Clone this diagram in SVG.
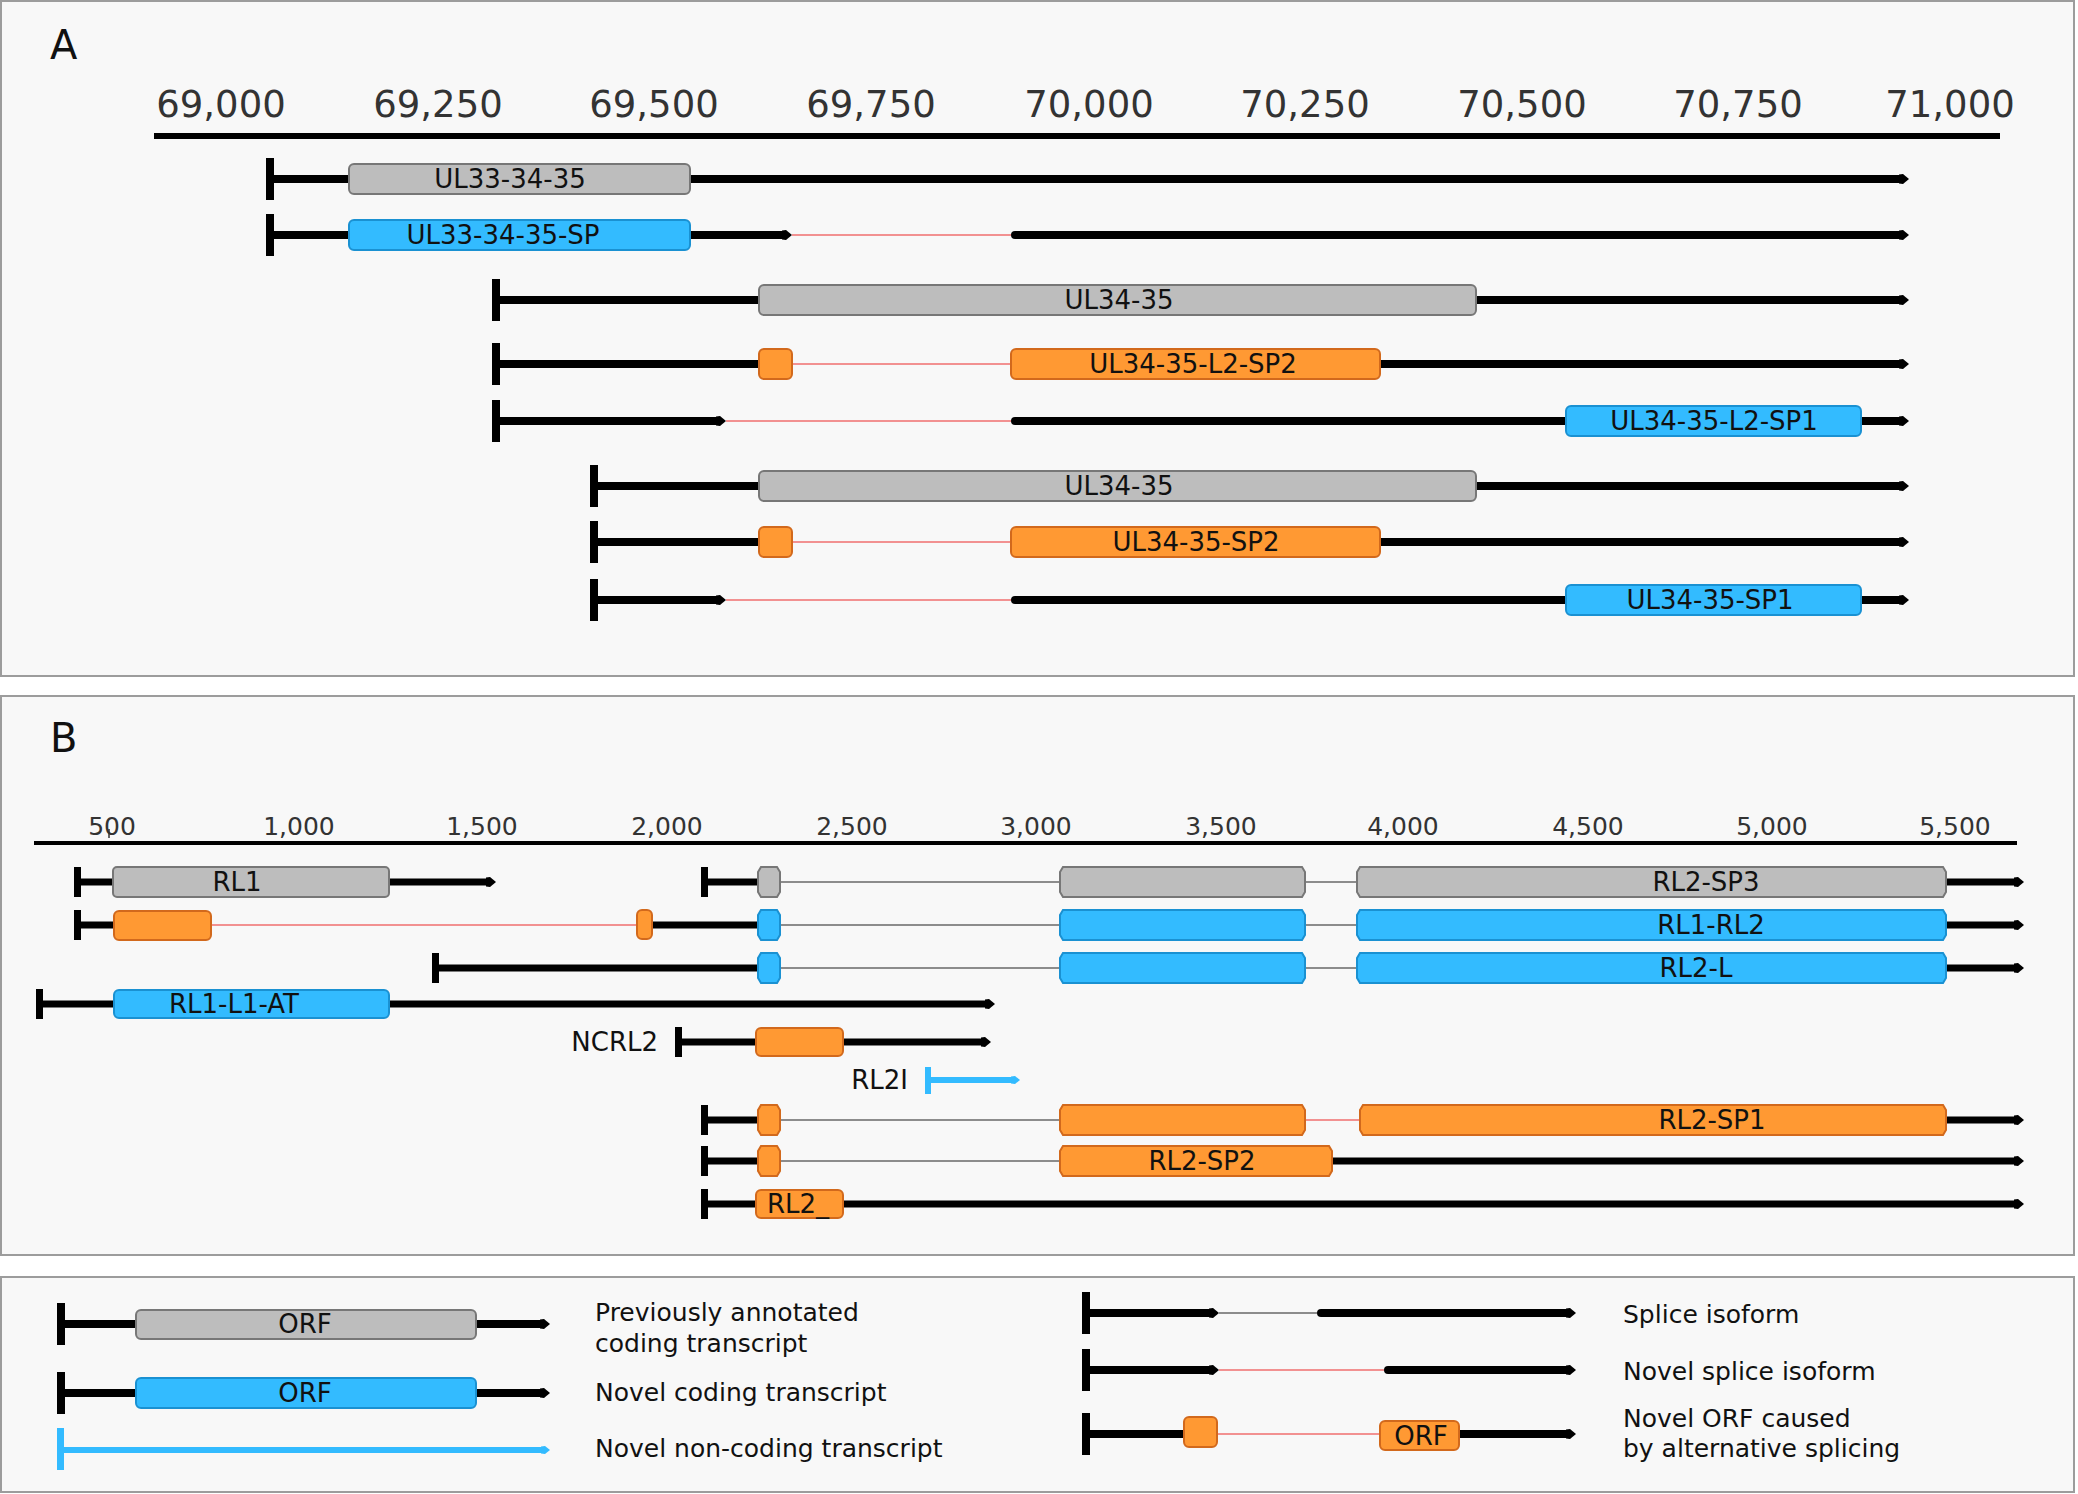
<svg xmlns="http://www.w3.org/2000/svg" width="2078" height="1494" viewBox="0 0 2078 1494">
<style>
.panel{fill:#f8f8f8;stroke:#9c9c9c;stroke-width:2}
text{font-family:"DejaVu Sans","Liberation Sans",sans-serif;fill:#111}
.axl{font-size:37px;fill:#333;text-anchor:middle}
.axb{font-size:25px;fill:#333;text-anchor:middle}
.lab{font-size:26px;text-anchor:middle}
.labe{font-size:26px;text-anchor:end}
.leg{font-size:25px}
.big{font-size:40px}
.tk{fill:#000}
.tkb{fill:#33bbff}
.ln{stroke:#000;stroke-width:8;fill:none}
.lnb{stroke:#000;stroke-width:7;fill:none}
.rs{stroke-linecap:round}
.nb{stroke:#33bbff;stroke-width:6;fill:none}
.pk{stroke:#f29191;stroke-width:2}
.gy{stroke:#8c8c8c;stroke-width:2}
.gray{fill:#bdbdbd;stroke:#777;stroke-width:2}
.blue{fill:#33bbff;stroke:#1a91d2;stroke-width:2}
.orange{fill:#ff9933;stroke:#d2691c;stroke-width:2}
.mk{stroke:#333;stroke-width:1.5}
</style>
<defs>
<marker id="tip" markerUnits="userSpaceOnUse" markerWidth="12" markerHeight="12" refX="0" refY="6" orient="auto"><path d="M0,1.5 L4,1 L10,6 L4,11 L0,10.5 Z" fill="#000"/></marker>
<marker id="tipb" markerUnits="userSpaceOnUse" markerWidth="12" markerHeight="12" refX="0" refY="6" orient="auto"><path d="M0,2.5 L4,2 L9,6 L4,10 L0,9.5 Z" fill="#33bbff"/></marker>
</defs>
<rect width="2078" height="1494" fill="#ffffff"/>

<!-- Panel A -->
<g id="panelA">
<rect class="panel" x="1" y="1" width="2073" height="675"/>
<text class="big" x="50" y="59">A</text>
<g id="axisA">
<line x1="154" y1="136" x2="2000" y2="136" stroke="#000" stroke-width="6"/>
<text class="axl" x="221" y="117">69,000</text>
<text class="axl" x="438" y="117">69,250</text>
<text class="axl" x="654" y="117">69,500</text>
<text class="axl" x="871" y="117">69,750</text>
<text class="axl" x="1089" y="117">70,000</text>
<text class="axl" x="1305" y="117">70,250</text>
<text class="axl" x="1522" y="117">70,500</text>
<text class="axl" x="1738" y="117">70,750</text>
<text class="axl" x="1950" y="117">71,000</text>
</g>
</g>

<!-- Panel B -->
<g id="panelB">
<rect class="panel" x="1" y="696" width="2073" height="559"/>
<text class="big" x="50" y="752">B</text>
<g id="axisB">
<line x1="34" y1="843" x2="2017" y2="843" stroke="#000" stroke-width="4"/>
<text class="axb" x="112" y="835">500</text>
<line class="mk" x1="109" y1="829" x2="109" y2="838"/>
<text class="axb" x="299" y="835">1,000</text>
<text class="axb" x="482" y="835">1,500</text>
<text class="axb" x="667" y="835">2,000</text>
<text class="axb" x="852" y="835">2,500</text>
<text class="axb" x="1036" y="835">3,000</text>
<text class="axb" x="1221" y="835">3,500</text>
<text class="axb" x="1403" y="835">4,000</text>
<text class="axb" x="1588" y="835">4,500</text>
<text class="axb" x="1772" y="835">5,000</text>
<text class="axb" x="1955" y="835">5,500</text>
</g>
</g>

<!-- Legend panel -->
<g id="legendPanel">
<rect class="panel" x="1" y="1277" width="2073" height="215"/>
</g>

<g id="connectors">
<!-- Panel A lines -->
<line class="ln" x1="270" y1="179" x2="1899" y2="179" marker-end="url(#tip)"/>
<line class="ln" x1="270" y1="235" x2="782" y2="235" marker-end="url(#tip)"/>
<line class="pk" x1="792" y1="235" x2="1011" y2="235"/>
<line class="ln rs" x1="1015" y1="235" x2="1899" y2="235" marker-end="url(#tip)"/>
<line class="ln" x1="496" y1="300" x2="1899" y2="300" marker-end="url(#tip)"/>
<line class="ln" x1="496" y1="364" x2="770" y2="364"/>
<line class="pk" x1="792" y1="364" x2="1011" y2="364"/>
<line class="ln" x1="1370" y1="364" x2="1899" y2="364" marker-end="url(#tip)"/>
<line class="ln" x1="496" y1="421" x2="716" y2="421" marker-end="url(#tip)"/>
<line class="pk" x1="726" y1="421" x2="1011" y2="421"/>
<line class="ln rs" x1="1015" y1="421" x2="1899" y2="421" marker-end="url(#tip)"/>
<line class="ln" x1="594" y1="486" x2="1899" y2="486" marker-end="url(#tip)"/>
<line class="ln" x1="594" y1="542" x2="770" y2="542"/>
<line class="pk" x1="792" y1="542" x2="1011" y2="542"/>
<line class="ln" x1="1370" y1="542" x2="1899" y2="542" marker-end="url(#tip)"/>
<line class="ln" x1="594" y1="600" x2="716" y2="600" marker-end="url(#tip)"/>
<line class="pk" x1="726" y1="600" x2="1011" y2="600"/>
<line class="ln rs" x1="1015" y1="600" x2="1899" y2="600" marker-end="url(#tip)"/>

<!-- Panel B lines -->
<line class="lnb" x1="78" y1="882" x2="486" y2="882" marker-end="url(#tip)"/>
<line class="lnb" x1="704" y1="882" x2="770" y2="882"/>
<line class="gy" x1="780" y1="882" x2="1060" y2="882"/>
<line class="gy" x1="1305" y1="882" x2="1357" y2="882"/>
<line class="lnb" x1="1940" y1="882" x2="2014" y2="882" marker-end="url(#tip)"/>

<line class="lnb" x1="78" y1="925" x2="120" y2="925"/>
<line class="pk" x1="211" y1="925" x2="637" y2="925"/>
<line class="lnb" x1="648" y1="925" x2="770" y2="925"/>
<line class="gy" x1="780" y1="925" x2="1060" y2="925"/>
<line class="gy" x1="1305" y1="925" x2="1357" y2="925"/>
<line class="lnb" x1="1940" y1="925" x2="2014" y2="925" marker-end="url(#tip)"/>

<line class="lnb" x1="436" y1="968" x2="770" y2="968"/>
<line class="gy" x1="780" y1="968" x2="1060" y2="968"/>
<line class="gy" x1="1305" y1="968" x2="1357" y2="968"/>
<line class="lnb" x1="1940" y1="968" x2="2014" y2="968" marker-end="url(#tip)"/>

<line class="lnb" x1="40" y1="1004" x2="985" y2="1004" marker-end="url(#tip)"/>
<line class="lnb" x1="678" y1="1042" x2="981" y2="1042" marker-end="url(#tip)"/>
<line class="nb" x1="928" y1="1080" x2="1011" y2="1080" marker-end="url(#tipb)"/>

<line class="lnb" x1="704" y1="1120" x2="770" y2="1120"/>
<line class="gy" x1="780" y1="1120" x2="1060" y2="1120"/>
<line class="pk" x1="1305" y1="1120" x2="1360" y2="1120"/>
<line class="lnb" x1="1940" y1="1120" x2="2014" y2="1120" marker-end="url(#tip)"/>

<line class="lnb" x1="704" y1="1161" x2="770" y2="1161"/>
<line class="gy" x1="780" y1="1161" x2="1060" y2="1161"/>
<line class="lnb" x1="1326" y1="1161" x2="2014" y2="1161" marker-end="url(#tip)"/>

<line class="lnb" x1="704" y1="1204" x2="2014" y2="1204" marker-end="url(#tip)"/>

<!-- Legend lines -->
<line class="ln" x1="61" y1="1324" x2="540" y2="1324" marker-end="url(#tip)"/>
<line class="ln" x1="61" y1="1393" x2="540" y2="1393" marker-end="url(#tip)"/>
<line class="nb" x1="61" y1="1450" x2="541" y2="1450" marker-end="url(#tipb)"/>
<line class="ln" x1="1086" y1="1313" x2="1209" y2="1313" marker-end="url(#tip)"/>
<line class="gy" x1="1219" y1="1313" x2="1317" y2="1313"/>
<line class="ln rs" x1="1321" y1="1313" x2="1566" y2="1313" marker-end="url(#tip)"/>
<line class="ln" x1="1086" y1="1370" x2="1209" y2="1370" marker-end="url(#tip)"/>
<line class="pk" x1="1219" y1="1370" x2="1384" y2="1370"/>
<line class="ln rs" x1="1388" y1="1370" x2="1566" y2="1370" marker-end="url(#tip)"/>
<line class="ln" x1="1086" y1="1434" x2="1190" y2="1434"/>
<line class="pk" x1="1217" y1="1434" x2="1380" y2="1434"/>
<line class="ln" x1="1455" y1="1434" x2="1566" y2="1434" marker-end="url(#tip)"/>
</g>

<!-- Panel A transcripts -->
<g id="UL33-34-35">
<rect class="tk" x="266" y="158" width="8" height="42"/>
<rect class="gray" x="349" y="164" width="341" height="30" rx="5"/>
<text class="lab" x="510" y="188">UL33-34-35</text>
</g>
<g id="UL33-34-35-SP">
<rect class="tk" x="266" y="214" width="8" height="42"/>
<rect class="blue" x="349" y="220" width="341" height="30" rx="5"/>
<text class="lab" x="503" y="244">UL33-34-35-SP</text>
</g>
<g id="UL34-35-L2">
<rect class="tk" x="492" y="279" width="8" height="42"/>
<rect class="gray" x="759" y="285" width="717" height="30" rx="5"/>
<text class="lab" x="1119" y="309">UL34-35</text>
</g>
<g id="UL34-35-L2-SP2">
<rect class="tk" x="492" y="343" width="8" height="42"/>
<rect class="orange" x="759" y="349" width="33" height="30" rx="5"/>
<rect class="orange" x="1011" y="349" width="369" height="30" rx="5"/>
<text class="lab" x="1193" y="373">UL34-35-L2-SP2</text>
</g>
<g id="UL34-35-L2-SP1">
<rect class="tk" x="492" y="400" width="8" height="42"/>
<rect class="blue" x="1566" y="406" width="295" height="30" rx="5"/>
<text class="lab" x="1714" y="430">UL34-35-L2-SP1</text>
</g>
<g id="UL34-35">
<rect class="tk" x="590" y="465" width="8" height="42"/>
<rect class="gray" x="759" y="471" width="717" height="30" rx="5"/>
<text class="lab" x="1119" y="495">UL34-35</text>
</g>
<g id="UL34-35-SP2">
<rect class="tk" x="590" y="521" width="8" height="42"/>
<rect class="orange" x="759" y="527" width="33" height="30" rx="5"/>
<rect class="orange" x="1011" y="527" width="369" height="30" rx="5"/>
<text class="lab" x="1196" y="551">UL34-35-SP2</text>
</g>
<g id="UL34-35-SP1">
<rect class="tk" x="590" y="579" width="8" height="42"/>
<rect class="blue" x="1566" y="585" width="295" height="30" rx="5"/>
<text class="lab" x="1710" y="609">UL34-35-SP1</text>
</g>

<!-- Panel B transcripts -->
<g id="RL1">
<rect class="tk" x="74" y="867" width="7" height="30"/>
<rect class="gray" x="113" y="867" width="276" height="30" rx="4"/>
<text class="lab" x="237" y="891">RL1</text>
</g>
<g id="RL2-SP3">
<rect class="tk" x="701" y="867" width="7" height="30"/>
<path class="gray" d="M761,867 H777 L780,872 V892 L777,897 H761 L758,892 V872 Z"/>
<path class="gray" d="M1063,867 H1302 L1305,872 V892 L1302,897 H1063 L1060,892 V872 Z"/>
<path class="gray" d="M1360,867 H1943 L1946,872 V892 L1943,897 H1360 L1357,892 V872 Z"/>
<text class="lab" x="1706" y="891">RL2-SP3</text>
</g>
<g id="RL1-RL2">
<rect class="tk" x="74" y="910" width="7" height="30"/>
<rect class="orange" x="114" y="911" width="97" height="29" rx="5"/>
<rect class="orange" x="637" y="910" width="15" height="29" rx="5"/>
<path class="blue" d="M761,910 H777 L780,915 V935 L777,940 H761 L758,935 V915 Z"/>
<path class="blue" d="M1063,910 H1302 L1305,915 V935 L1302,940 H1063 L1060,935 V915 Z"/>
<path class="blue" d="M1360,910 H1943 L1946,915 V935 L1943,940 H1360 L1357,935 V915 Z"/>
<text class="lab" x="1711" y="934">RL1-RL2</text>
</g>
<g id="RL2-L">
<rect class="tk" x="432" y="953" width="7" height="30"/>
<path class="blue" d="M761,953 H777 L780,958 V978 L777,983 H761 L758,978 V958 Z"/>
<path class="blue" d="M1063,953 H1302 L1305,958 V978 L1302,983 H1063 L1060,978 V958 Z"/>
<path class="blue" d="M1360,953 H1943 L1946,958 V978 L1943,983 H1360 L1357,978 V958 Z"/>
<text class="lab" x="1696" y="977">RL2-L</text>
</g>
<g id="RL1-L1-AT">
<rect class="tk" x="36" y="989" width="7" height="30"/>
<rect class="blue" x="114" y="990" width="275" height="28" rx="5"/>
<text class="lab" x="234" y="1013">RL1-L1-AT</text>
</g>
<g id="NCRL2">
<text class="labe" x="658" y="1051">NCRL2</text>
<rect class="tk" x="675" y="1027" width="7" height="30"/>
<rect class="orange" x="756" y="1028" width="87" height="28" rx="5"/>
</g>
<g id="RL2I">
<text class="labe" x="908" y="1089">RL2I</text>
<rect class="tkb" x="925" y="1067" width="6" height="27"/>
</g>
<g id="RL2-SP1">
<rect class="tk" x="701" y="1105" width="7" height="30"/>
<path class="orange" d="M761,1105 H777 L780,1110 V1130 L777,1135 H761 L758,1130 V1110 Z"/>
<path class="orange" d="M1063,1105 H1302 L1305,1110 V1130 L1302,1135 H1063 L1060,1130 V1110 Z"/>
<path class="orange" d="M1363,1105 H1943 L1946,1110 V1130 L1943,1135 H1363 L1360,1130 V1110 Z"/>
<text class="lab" x="1712" y="1129">RL2-SP1</text>
</g>
<g id="RL2-SP2">
<rect class="tk" x="701" y="1146" width="7" height="30"/>
<path class="orange" d="M761,1146 H777 L780,1151 V1171 L777,1176 H761 L758,1171 V1151 Z"/>
<path class="orange" d="M1063,1146 H1329 L1332,1151 V1171 L1329,1176 H1063 L1060,1171 V1151 Z"/>
<text class="lab" x="1202" y="1170">RL2-SP2</text>
</g>
<g id="RL2_">
<rect class="tk" x="701" y="1189" width="7" height="30"/>
<rect class="orange" x="756" y="1190" width="87" height="28" rx="5"/>
<text class="lab" x="798" y="1213">RL2_</text>
</g>

<!-- Legend entries -->
<g id="legend">
<g id="leg-annotated">
<rect class="tk" x="57" y="1303" width="8" height="42"/>
<rect class="gray" x="136" y="1310" width="340" height="29" rx="5"/>
<text class="lab" x="305" y="1333">ORF</text>
<text class="leg" x="595" y="1321">Previously annotated</text>
<text class="leg" x="595" y="1352">coding transcript</text>
</g>
<g id="leg-novel">
<rect class="tk" x="57" y="1372" width="8" height="42"/>
<rect class="blue" x="136" y="1378" width="340" height="30" rx="5"/>
<text class="lab" x="305" y="1402">ORF</text>
<text class="leg" x="595" y="1401">Novel coding transcript</text>
</g>
<g id="leg-noncoding">
<rect class="tkb" x="57" y="1428" width="7" height="42"/>
<text class="leg" x="595" y="1457">Novel non-coding transcript</text>
</g>
<g id="leg-splice">
<rect class="tk" x="1082" y="1292" width="8" height="42"/>
<text class="leg" x="1623" y="1323">Splice isoform</text>
</g>
<g id="leg-novelsplice">
<rect class="tk" x="1082" y="1349" width="8" height="42"/>
<text class="leg" x="1623" y="1380">Novel splice isoform</text>
</g>
<g id="leg-novelorf">
<rect class="tk" x="1082" y="1413" width="8" height="42"/>
<rect class="orange" x="1184" y="1417" width="33" height="30" rx="5"/>
<rect class="orange" x="1380" y="1421" width="79" height="29" rx="5"/>
<text class="lab" x="1421" y="1445">ORF</text>
<text class="leg" x="1623" y="1427">Novel ORF caused</text>
<text class="leg" x="1623" y="1457">by alternative splicing</text>
</g>
</g>
</svg>
